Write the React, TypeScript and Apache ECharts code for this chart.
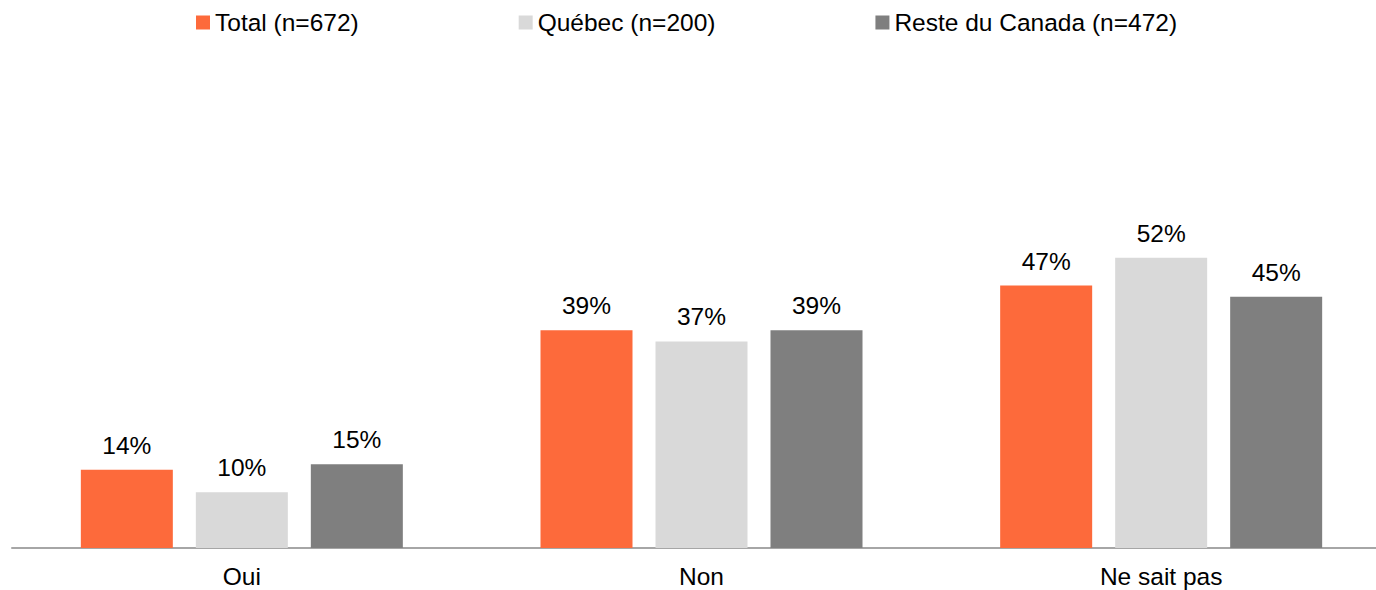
import React, { useEffect, useRef } from "react";
import * as echarts from "echarts";

const categories = ["Oui", "Non", "Ne sait pas"];
const seriesNames = ["Total (n=672)", "Québec (n=200)", "Reste du Canada (n=472)"];
const totalValues = [14, 39, 47];
const quebecValues = [10, 37, 52];
const resteValues = [15, 39, 45];
const colors = ["#FD6A3B", "#D9D9D9", "#7F7F7F"];

export default function App() {
  const ref = useRef<HTMLDivElement>(null);
  useEffect(() => {
    if (!ref.current) return;
    const chart = echarts.init(ref.current, null, { renderer: "svg" });
    const font = "'Liberation Sans', Arial, sans-serif";
    const data = [totalValues, quebecValues, resteValues];
    chart.setOption({
      animation: false,
      textStyle: { fontFamily: font },
      legend: {
        left: 196,
        top: 10,
        padding: 0,
        itemWidth: 14,
        itemHeight: 14,
        itemGap: 160,
        icon: "rect",
        textStyle: { fontSize: 24.5, color: "#000", fontFamily: font },
        data: seriesNames,
      },
      grid: { left: 12, right: 0, top: 213, height: 335 },
      xAxis: {
        type: "category",
        data: categories,
        axisLine: { lineStyle: { color: "#A6A6A6", width: 2 } },
        axisTick: { show: false },
        axisLabel: { fontSize: 24.5, color: "#000", margin: 16, fontFamily: font },
      },
      yAxis: {
        type: "value",
        min: 0,
        max: 60,
        show: false,
        splitLine: { show: false },
      },
      series: seriesNames.map((name, i) => ({
        name,
        type: "bar",
        data: data[i],
        barWidth: 92,
        barGap: "25%",
        itemStyle: { color: colors[i] },
        label: {
          show: true,
          position: "top",
          distance: 12,
          formatter: "{c}%",
          fontSize: 24.5,
          color: "#000",
          fontFamily: font,
        },
      })),
    });
    return () => chart.dispose();
  }, []);
  return (
    <div style={{ position: "fixed", left: 0, top: 0, width: 1376, height: 590, overflow: "hidden", background: "#fff" }}>
      <div ref={ref} style={{ position: "absolute", left: 0, top: 0, width: 1391, height: 590 }} />
    </div>
  );
}
